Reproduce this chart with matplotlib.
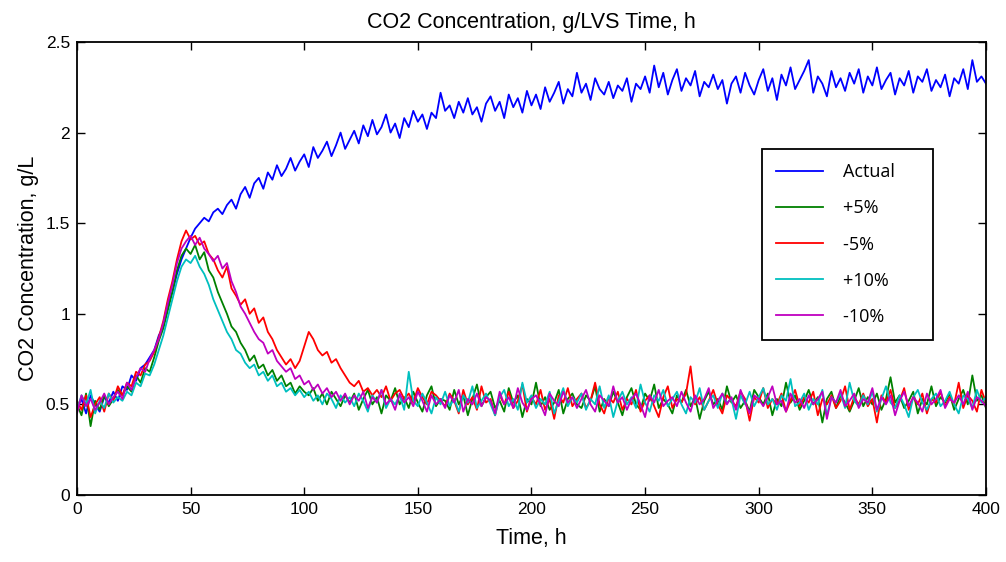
import numpy as np
import matplotlib
matplotlib.use("Agg")
import matplotlib.pyplot as plt

# time axis, one reading every 2 h
hours = np.arange(0, 401, 2)

actual = [
    0.48, 0.53, 0.45, 0.55, 0.50, 0.46, 0.54, 0.51, 0.57, 0.52, 0.60,
    0.58, 0.66, 0.63, 0.70, 0.72, 0.76, 0.80, 0.88, 0.93, 1.05,
    1.12, 1.22, 1.30, 1.36, 1.42, 1.47, 1.50, 1.53, 1.51, 1.56,
    1.58, 1.55, 1.60, 1.63, 1.58, 1.66, 1.70, 1.64, 1.72, 1.75,
    1.69, 1.78, 1.74, 1.82, 1.76, 1.80, 1.86, 1.79, 1.84, 1.88,
    1.81, 1.92, 1.86, 1.90, 1.95, 1.87, 1.93, 2.00, 1.91, 1.96,
    2.01, 1.94, 2.04, 1.98, 2.07, 1.99, 2.03, 2.10, 2.00, 2.05,
    1.97, 2.08, 2.03, 2.12, 2.06, 2.10, 2.02, 2.11, 2.08, 2.22,
    2.12, 2.15, 2.08, 2.17, 2.11, 2.19, 2.10, 2.14, 2.06, 2.16,
    2.20, 2.12, 2.17, 2.08, 2.21, 2.14, 2.19, 2.11, 2.23, 2.15,
    2.21, 2.13, 2.25, 2.17, 2.22, 2.28, 2.16, 2.24, 2.20, 2.33,
    2.22, 2.27, 2.18, 2.30, 2.24, 2.21, 2.28, 2.19, 2.26, 2.23,
    2.30, 2.17, 2.27, 2.24, 2.31, 2.22, 2.37, 2.25, 2.33, 2.21,
    2.29, 2.35, 2.23, 2.30, 2.26, 2.34, 2.20, 2.28, 2.25, 2.32,
    2.24, 2.29, 2.16, 2.27, 2.31, 2.22, 2.33, 2.26, 2.21, 2.29,
    2.35, 2.23, 2.30, 2.18, 2.32, 2.26, 2.36, 2.24, 2.29, 2.34,
    2.40, 2.22, 2.31, 2.27, 2.20, 2.34, 2.25, 2.30, 2.23, 2.33,
    2.27, 2.35, 2.22, 2.31, 2.26, 2.36, 2.24, 2.29, 2.33, 2.21,
    2.30, 2.26, 2.34, 2.22, 2.31, 2.28, 2.35, 2.23, 2.29, 2.25,
    2.32, 2.20, 2.30, 2.27, 2.35, 2.24, 2.40, 2.28, 2.31, 2.27,
]

plus5 = [
    0.50, 0.44, 0.56, 0.38, 0.52, 0.47, 0.55, 0.49, 0.53, 0.58, 0.55,
    0.60, 0.57, 0.66, 0.62, 0.70, 0.68, 0.76, 0.85, 0.92, 1.02,
    1.12, 1.24, 1.32, 1.36, 1.33, 1.38, 1.30, 1.34, 1.24, 1.20,
    1.12, 1.06, 1.00, 0.93, 0.90, 0.84, 0.80, 0.74, 0.77, 0.70,
    0.72, 0.66, 0.69, 0.63, 0.66, 0.60, 0.62, 0.56, 0.60, 0.57,
    0.55, 0.59, 0.52, 0.56, 0.50, 0.57, 0.53, 0.49, 0.55, 0.51,
    0.56, 0.47, 0.53, 0.58, 0.50, 0.54, 0.45, 0.55, 0.52, 0.59,
    0.50, 0.54, 0.48, 0.57, 0.51, 0.46, 0.55, 0.60, 0.49, 0.53,
    0.52, 0.47, 0.58, 0.50, 0.55, 0.44, 0.53, 0.61, 0.49, 0.54,
    0.57, 0.48, 0.52, 0.46, 0.59, 0.51, 0.55, 0.43, 0.53, 0.50,
    0.62, 0.49, 0.54, 0.47, 0.51, 0.58, 0.45, 0.53, 0.56, 0.50,
    0.48, 0.55, 0.52, 0.60, 0.46, 0.53, 0.49, 0.57, 0.51, 0.44,
    0.54, 0.59, 0.50, 0.47, 0.56, 0.52, 0.61, 0.48, 0.53, 0.50,
    0.45, 0.55, 0.51, 0.58, 0.49, 0.54, 0.42, 0.52, 0.57, 0.50,
    0.53, 0.47, 0.60, 0.51, 0.55, 0.48, 0.52, 0.46, 0.58, 0.54,
    0.50, 0.56, 0.44, 0.53, 0.49, 0.62, 0.51, 0.55, 0.47, 0.52,
    0.58, 0.50, 0.54, 0.40, 0.53, 0.57, 0.48, 0.55, 0.51, 0.46,
    0.52, 0.59, 0.49, 0.54, 0.50, 0.56, 0.47, 0.53, 0.65, 0.51,
    0.55, 0.48, 0.52, 0.57, 0.45, 0.53, 0.50, 0.60, 0.49, 0.54,
    0.51, 0.56, 0.47, 0.53, 0.58, 0.50, 0.66, 0.52, 0.55, 0.48,
]

minus5 = [
    0.52, 0.47, 0.55, 0.43, 0.50, 0.54, 0.46, 0.56, 0.52, 0.60, 0.55,
    0.62, 0.60, 0.68, 0.66, 0.72, 0.74, 0.79, 0.87, 0.96, 1.08,
    1.18, 1.30, 1.40, 1.46, 1.41, 1.43, 1.38, 1.40, 1.33, 1.30,
    1.24, 1.20, 1.26, 1.14, 1.10, 1.05, 1.08, 1.00, 1.03, 0.95,
    0.98, 0.90, 0.86, 0.80, 0.76, 0.72, 0.75, 0.70, 0.74, 0.82,
    0.90, 0.86, 0.80, 0.77, 0.79, 0.73, 0.75, 0.70, 0.66, 0.62,
    0.60, 0.63, 0.57, 0.59, 0.55, 0.58, 0.54, 0.60, 0.52, 0.56,
    0.58, 0.53, 0.56, 0.51, 0.59, 0.54, 0.50, 0.57, 0.55, 0.52,
    0.49, 0.56, 0.52, 0.45, 0.58, 0.50, 0.54, 0.47, 0.60, 0.51,
    0.53, 0.44, 0.55, 0.50, 0.57, 0.48, 0.52, 0.61, 0.46, 0.54,
    0.50, 0.58, 0.47, 0.53, 0.42, 0.55, 0.51, 0.59, 0.49, 0.53,
    0.56, 0.48, 0.52, 0.62, 0.50, 0.45, 0.54, 0.51, 0.57, 0.47,
    0.53, 0.50, 0.58, 0.46, 0.52, 0.55, 0.49, 0.43, 0.54, 0.60,
    0.48, 0.53, 0.51, 0.56, 0.71, 0.50, 0.54, 0.47, 0.52, 0.58,
    0.50, 0.45, 0.55, 0.52, 0.49, 0.57, 0.53, 0.41, 0.54, 0.51,
    0.59, 0.48, 0.53, 0.50, 0.56, 0.46, 0.52, 0.58, 0.49, 0.54,
    0.51, 0.57, 0.44, 0.53, 0.50, 0.55, 0.48, 0.52, 0.60, 0.47,
    0.54, 0.50, 0.56, 0.49, 0.53, 0.40, 0.55, 0.51, 0.58, 0.48,
    0.52, 0.59, 0.47, 0.54, 0.50, 0.56, 0.45, 0.53, 0.51, 0.57,
    0.49, 0.54, 0.50, 0.62, 0.48, 0.55, 0.52, 0.46, 0.58, 0.51,
]

plus10 = [
    0.47, 0.55, 0.50, 0.58, 0.45, 0.52, 0.48, 0.56, 0.51, 0.54, 0.52,
    0.57, 0.55, 0.62, 0.60, 0.67, 0.66, 0.72, 0.80, 0.88, 0.98,
    1.08, 1.18, 1.26, 1.30, 1.28, 1.32, 1.26, 1.22, 1.16, 1.08,
    1.02, 0.96, 0.90, 0.86, 0.80, 0.78, 0.73, 0.70, 0.72, 0.66,
    0.68, 0.63, 0.66, 0.60, 0.62, 0.57, 0.59, 0.55, 0.58, 0.54,
    0.57, 0.52, 0.55, 0.50, 0.56, 0.53, 0.48, 0.55, 0.51, 0.54,
    0.49, 0.56, 0.52, 0.46, 0.55, 0.51, 0.58, 0.48, 0.53, 0.50,
    0.55, 0.47, 0.68, 0.52, 0.49, 0.56, 0.51, 0.45, 0.54, 0.50,
    0.57, 0.49, 0.53, 0.46, 0.55, 0.51, 0.60, 0.48, 0.52, 0.56,
    0.50, 0.44, 0.54, 0.58, 0.49, 0.53, 0.47, 0.62, 0.51, 0.55,
    0.48, 0.53, 0.50, 0.57, 0.45, 0.52, 0.59, 0.49, 0.54, 0.51,
    0.56, 0.47, 0.53, 0.50, 0.60, 0.48, 0.55, 0.43, 0.52, 0.57,
    0.50, 0.54, 0.48, 0.61, 0.51, 0.46, 0.55, 0.52, 0.58, 0.49,
    0.53, 0.57, 0.50, 0.45, 0.54, 0.51, 0.59, 0.47, 0.52, 0.55,
    0.48, 0.56, 0.51, 0.53, 0.42, 0.55, 0.50, 0.57, 0.49, 0.54,
    0.59, 0.50, 0.53, 0.47, 0.55, 0.52, 0.64, 0.49, 0.51, 0.56,
    0.47, 0.53, 0.50, 0.58, 0.44, 0.54, 0.51, 0.56, 0.48, 0.62,
    0.52, 0.49, 0.55, 0.50, 0.57, 0.46, 0.53, 0.60, 0.51, 0.48,
    0.55, 0.50, 0.43, 0.54, 0.58, 0.51, 0.47, 0.53, 0.56, 0.49,
    0.52, 0.57, 0.50, 0.45, 0.55, 0.53, 0.48, 0.58, 0.51, 0.54,
]

minus10 = [
    0.45, 0.55, 0.49, 0.53, 0.47, 0.51, 0.56, 0.50, 0.54, 0.57, 0.53,
    0.62, 0.58, 0.65, 0.70, 0.68, 0.75, 0.80, 0.86, 0.95, 1.06,
    1.16, 1.28, 1.36, 1.40, 1.43, 1.38, 1.42, 1.36, 1.33, 1.29,
    1.32, 1.25, 1.28, 1.18, 1.12, 1.04, 1.00, 0.95, 0.90, 0.86,
    0.84, 0.78, 0.80, 0.74, 0.71, 0.68, 0.70, 0.64, 0.66, 0.61,
    0.63, 0.58, 0.61, 0.56, 0.59, 0.54, 0.57, 0.52, 0.56, 0.50,
    0.55, 0.52, 0.57, 0.48, 0.54, 0.51, 0.58, 0.50, 0.53, 0.47,
    0.56, 0.51, 0.54, 0.49, 0.57, 0.52, 0.46, 0.55, 0.50, 0.53,
    0.48, 0.55, 0.51, 0.58, 0.46, 0.53, 0.50, 0.56, 0.49, 0.54,
    0.52, 0.45, 0.57, 0.50, 0.54, 0.48, 0.59, 0.51, 0.47, 0.53,
    0.55, 0.50, 0.44, 0.56, 0.52, 0.49, 0.57, 0.51, 0.54, 0.48,
    0.53, 0.58, 0.50, 0.46, 0.55, 0.52, 0.49, 0.60, 0.51, 0.54,
    0.47, 0.53, 0.56, 0.50, 0.43, 0.55, 0.51, 0.58, 0.49, 0.52,
    0.54, 0.49, 0.57, 0.51, 0.46, 0.55, 0.50, 0.53, 0.59, 0.48,
    0.52, 0.56, 0.50, 0.54, 0.47, 0.58, 0.51, 0.45, 0.55, 0.53,
    0.49, 0.54, 0.60, 0.50, 0.52, 0.46, 0.56, 0.51, 0.53, 0.48,
    0.55, 0.50, 0.53, 0.57, 0.42, 0.54, 0.51, 0.58, 0.49, 0.52,
    0.56, 0.48, 0.53, 0.51, 0.59, 0.47, 0.54, 0.50, 0.55, 0.44,
    0.52, 0.57, 0.49, 0.54, 0.51, 0.46, 0.56, 0.50, 0.53, 0.58,
    0.48, 0.53, 0.51, 0.55, 0.50, 0.57, 0.47, 0.54, 0.52, 0.49,
]

series_labels = ["Actual", "+5%", "-5%", "+10%", "-10%"]
series_colors = ["#0000ff", "#008000", "#ff0000", "#00bfbf", "#bf00bf"]
xtick_vals = [0, 50, 100, 150, 200, 250, 300, 350, 400]
ytick_vals = [0, 0.5, 1, 1.5, 2, 2.5]
ytick_labels = ["0", "0.5", "1", "1.5", "2", "2.5"]

plt.rcParams["font.family"] = "Liberation Sans"

fig = plt.figure(figsize=(10.06, 5.62), dpi=100)
ax = fig.add_axes([0.0765, 0.1192, 0.9036, 0.8061])

for ys, lab, col in zip([actual, plus5, minus5, plus10, minus10], series_labels, series_colors):
    ax.plot(hours, ys, color=col, lw=1.3, label=lab)

ax.set_xlim(0, 400)
ax.set_ylim(0, 2.5)
ax.set_xticks(xtick_vals)
ax.set_xticklabels([str(v) for v in xtick_vals], fontsize=12.5)
ax.set_yticks(ytick_vals)
ax.set_yticklabels(ytick_labels, fontsize=12.5)
ax.tick_params(direction="in", length=6, width=1, top=True, right=True, pad=5)
for sp in ax.spines.values():
    sp.set_linewidth(1.3)

ax.set_title("CO2 Concentration, g/LVS Time, h", fontsize=15.5, pad=10)
ax.set_xlabel("Time, h", fontsize=15.5, labelpad=8)
ax.set_ylabel("CO2 Concentration, g/L", fontsize=15.5, labelpad=5)

leg = ax.legend(loc="upper left", bbox_to_anchor=(0.7536, 0.7638), borderaxespad=0,
                fancybox=False, edgecolor="black", framealpha=1,
                prop={"family": "Open Sans", "size": 13},
                handlelength=2.6, handletextpad=1.1, labelspacing=1.0, borderpad=0.8)
leg.get_frame().set_linewidth(1.3)
for t in leg.get_texts():
    t.set_text(t.get_text() + "     ")

fig.savefig("out.png", dpi=100)
